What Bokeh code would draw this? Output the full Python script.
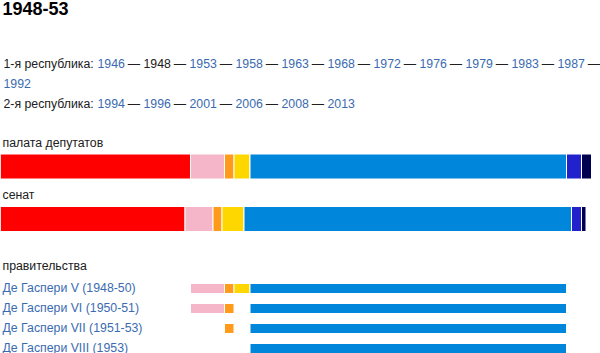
from bokeh.plotting import figure
from bokeh.models import ColumnDataSource, Range1d
from bokeh.embed import file_html
from bokeh.resources import INLINE
from bokeh.core.properties import value

# ---------------- data ----------------
title = "1948-53"
rep1_label = "1-я республика:"
rep1_years = ["1946", "1948", "1953", "1958", "1963", "1968", "1972",
              "1976", "1979", "1983", "1987", "1992"]
current_year = "1948"
rep2_label = "2-я республика:"
rep2_years = ["1994", "1996", "2001", "2006", "2008", "2013"]

chamber_label = "палата депутатов"
senate_label = "сенат"
gov_label = "правительства"

parties = ["FDP", "PSLI", "PRI", "PLI", "DC", "PNM", "MSI"]
party_colors = ["#FF0000", "#F4B6C8", "#FF9A1A", "#FFD700", "#0087DC",
                "#2222CC", "#000050"]
chamber_seats = [190, 34, 9.5, 16, 316.5, 15, 10]
senate_seats = [184.5, 28, 9, 22, 327.5, 10, 4.5]

gov_names = ["Де Гаспери V (1948-50)", "Де Гаспери VI (1950-51)",
             "Де Гаспери VII (1951-53)", "Де Гаспери VIII (1953)"]
gov_members = [
    [0, 1, 1, 1, 1, 0, 0],
    [0, 1, 1, 0, 1, 0, 0],
    [0, 0, 1, 0, 1, 0, 0],
    [0, 0, 0, 0, 1, 0, 0],
]

# ---------------- style ----------------
FONT = value("Liberation Sans")
LINK = "#3A6BB0"
BLACK = "#202020"
SHIFT = -5  # baseline correction

p = figure(width=600, height=353, x_range=Range1d(0, 600),
           y_range=Range1d(353, 0), output_backend="svg",
           toolbar_location=None, min_border=0,
           x_axis_type=None, y_axis_type=None)
p.grid.visible = False
p.outline_line_color = None
p.background_fill_color = "white"
p.border_fill_color = "white"


def put_text(xs, ys, texts, color, size="12.3px", style="normal"):
    src = ColumnDataSource(dict(x=xs, y=[v + SHIFT for v in ys], t=texts))
    p.text(x="x", y="y", text="t", source=src, text_font=FONT,
           text_font_size=size, text_color=color, text_font_style=style,
           text_baseline="alphabetic", text_align="left")


# title
put_text([2], [13], [title], "#000000", size="18px", style="bold")

# election lines
x0, step, dash_off = 97, 46, 30.3
wrap = 11
line_y = [68, 88, 108]

put_text([3], [line_y[0]], [rep1_label], BLACK)
for i, yr in enumerate(rep1_years):
    if i < wrap:
        x, y = x0 + i * step, line_y[0]
    else:
        x, y = 3 + (i - wrap) * step, line_y[1]
    put_text([x], [y], [yr], BLACK if yr == current_year else LINK)
    if i < len(rep1_years) - 1:
        put_text([x + dash_off], [y], ["—"], BLACK)

put_text([3], [line_y[2]], [rep2_label], BLACK)
for i, yr in enumerate(rep2_years):
    x = x0 + i * step
    put_text([x], [line_y[2]], [yr], LINK)
    if i < len(rep2_years) - 1:
        put_text([x + dash_off], [line_y[2]], ["—"], BLACK)


# seat bars
def cum_edges(vals):
    lefts, rights, acc = [], [], 0.0
    for v in vals:
        lefts.append(acc)
        acc += v
        rights.append(acc)
    return lefts, rights


ch_l, ch_r = cum_edges(chamber_seats)
se_l, se_r = cum_edges(senate_seats)

put_text([2], [147.5], [chamber_label], BLACK)
p.hbar(y=166, left=ch_l, right=ch_r, height=25, fill_color=party_colors,
       line_color="white", line_width=1)

put_text([2], [199], [senate_label], BLACK)
p.hbar(y=218.5, left=se_l, right=se_r, height=25, fill_color=party_colors,
       line_color="white", line_width=1)

# governments
put_text([2], [270], [gov_label], BLACK)
for r, (name, mem) in enumerate(zip(gov_names, gov_members)):
    yc = 288 + r * 20
    put_text([2], [yc + 4], [name], LINK)
    ls = [ch_l[j] for j in range(len(parties)) if mem[j]]
    rs = [ch_r[j] for j in range(len(parties)) if mem[j]]
    cs = [party_colors[j] for j in range(len(parties)) if mem[j]]
    p.hbar(y=yc, left=ls, right=rs, height=10, fill_color=cs,
           line_color="white", line_width=1)

open("out.html", "w").write(file_html(p, INLINE))
